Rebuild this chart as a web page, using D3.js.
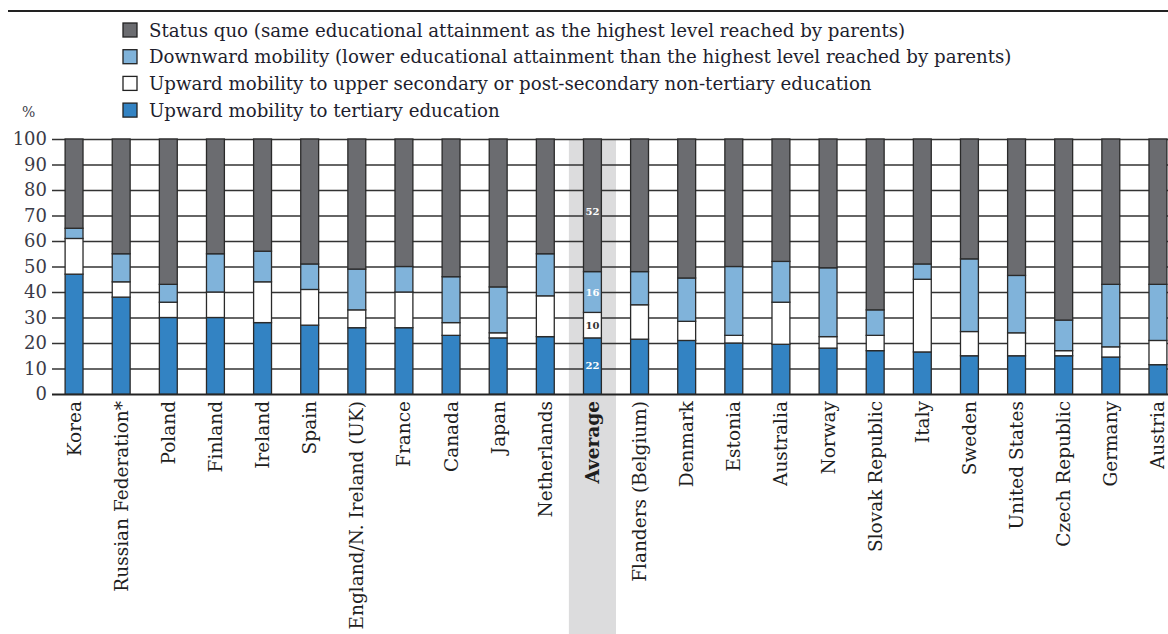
<!DOCTYPE html>
<html><head><meta charset="utf-8">
<script src="https://cdn.jsdelivr.net/npm/d3@7"></script>
<style>body{margin:0;background:#fff}svg{display:block}text{font-family:"DejaVu Serif",serif}</style>
</head><body><svg id="c" width="1168" height="634"></svg>
<script>
const categories = ["Korea","Russian Federation*","Poland","Finland","Ireland","Spain","England/N. Ireland (UK)","France","Canada","Japan","Netherlands","Average","Flanders (Belgium)","Denmark","Estonia","Australia","Norway","Slovak Republic","Italy","Sweden","United States","Czech Republic","Germany","Austria"];
const tertiary =       [47, 38, 30, 30, 28, 27, 26, 26, 23, 22, 22.5, 22, 21.5, 21, 20, 19.5, 18, 17, 16.5, 15, 15, 15, 14.5, 11.5];
const upperSecondary = [14,  6,  6, 10, 16, 14,  7, 14,  5,  2, 16,   10, 13.5, 7.5, 3, 16.5, 4.5, 6, 28.5, 9.5, 9, 2, 4, 9.5];
const downward =       [ 4, 11,  7, 15, 12, 10, 16, 10, 18, 18, 16.5, 16, 13, 17, 27, 16, 27, 10, 6, 28.5, 22.5, 12, 24.5, 22];
const statusQuo =      [35, 45, 57, 45, 44, 49, 51, 50, 54, 58, 45,   52, 52, 54.5, 50, 48, 50.5, 67, 49, 47, 53.5, 71, 57, 57];
const yTicks = [0,10,20,30,40,50,60,70,80,90,100];
const seriesKeys = ["tertiary","upperSecondary","downward","statusQuo"];
const seriesLabels = {
  statusQuo: "Status quo (same educational attainment as the highest level reached by parents)",
  downward: "Downward mobility (lower educational attainment than the highest level reached by parents)",
  upperSecondary: "Upward mobility to upper secondary or post-secondary non-tertiary education",
  tertiary: "Upward mobility to tertiary education"
};
const legendOrder = ["statusQuo","downward","upperSecondary","tertiary"];
const averageLabels = ["22","10","16","52"];

const colors = {tertiary:"#3383c3", upperSecondary:"#ffffff", downward:"#80b3da", statusQuo:"#6b6c70"};
const rows = categories.map((c,i)=>({cat:c, tertiary:tertiary[i], upperSecondary:upperSecondary[i], downward:downward[i], statusQuo:statusQuo[i]}));

const svg = d3.select("#c");
const x = d3.scaleBand().domain(categories).range([50.5, 1181.5]).paddingInner(0.62).paddingOuter(0.31);
const y = d3.scaleLinear().domain([0,100]).range([394,139]);
const step = x.step(), bw = x.bandwidth();

// top rule
svg.append("line").attr("x1",8).attr("x2",1168).attr("y1",11).attr("y2",11).attr("stroke","#222").attr("stroke-width",2);

// average band
svg.append("rect").attr("x", x("Average")+bw/2-step/2).attr("width", step).attr("y", y(100)).attr("height", 634-y(100)).attr("fill","#dcdcdd");

// grid / y axis
const ax = svg.append("g").attr("transform","translate(52,0)")
  .call(d3.axisLeft(y).tickValues(yTicks).tickSize(-(1168-52)).tickPadding(5));
ax.select(".domain").remove();
ax.selectAll(".tick line").attr("stroke","#333").attr("stroke-width",1.4);
ax.selectAll(".tick").filter(d=>d===0).select("line").attr("stroke","#222").attr("stroke-width",2.2);
ax.selectAll(".tick text").attr("font-size",18).attr("fill","#3b3b48").attr("font-family","DejaVu Serif");

svg.append("text").attr("x",22).attr("y",117).attr("font-size",14).attr("fill","#3b3b48").text("%");

// bars
const stack = d3.stack().keys(seriesKeys)(rows);
const g = svg.append("g");
stack.forEach(layer=>{
  g.selectAll(null).data(layer).join("rect")
    .attr("x", d=>x(d.data.cat)).attr("width", bw)
    .attr("y", d=>y(d[1])).attr("height", d=>y(d[0])-y(d[1]))
    .attr("fill", colors[layer.key]).attr("stroke","#2a2a2a").attr("stroke-width",1.3);
});

// average labels
const ai = categories.indexOf("Average");
stack.forEach((layer,k)=>{
  const d = layer[ai];
  const v = layer.key==="statusQuo" ? d[0]+(d[1]-d[0])*0.45 : (d[0]+d[1])/2;
  svg.append("text").attr("x", x("Average")+bw/2).attr("y", y(v))
    .attr("text-anchor","middle").attr("dominant-baseline","central")
    .attr("font-family","DejaVu Sans").attr("font-weight","bold").attr("font-size",10)
    .attr("fill", layer.key==="upperSecondary" ? "#333" : "#fff").text(averageLabels[k]);
});

// x labels
svg.append("g").selectAll("text").data(categories).join("text")
  .attr("transform", d=>`translate(${x(d)+bw/2},401) rotate(-90)`)
  .attr("dy","0.35em").attr("text-anchor","end")
  .attr("font-size",18.5).attr("fill","#1e1e1e")
  .attr("font-weight", d=>d==="Average"?"bold":"normal")
  .text(d=>d);

// legend
const lg = svg.append("g");
legendOrder.forEach((k,i)=>{
  const cy = 30 + i*26.7;
  lg.append("rect").attr("x",123).attr("y",cy-7).attr("width",14).attr("height",14)
    .attr("fill",colors[k]).attr("stroke","#222").attr("stroke-width",1.3);
  lg.append("text").attr("x",149).attr("y",cy).attr("dominant-baseline","central")
    .attr("font-size",18.2).attr("fill","#1e1e2e").text(seriesLabels[k]);
});
</script></body></html>
